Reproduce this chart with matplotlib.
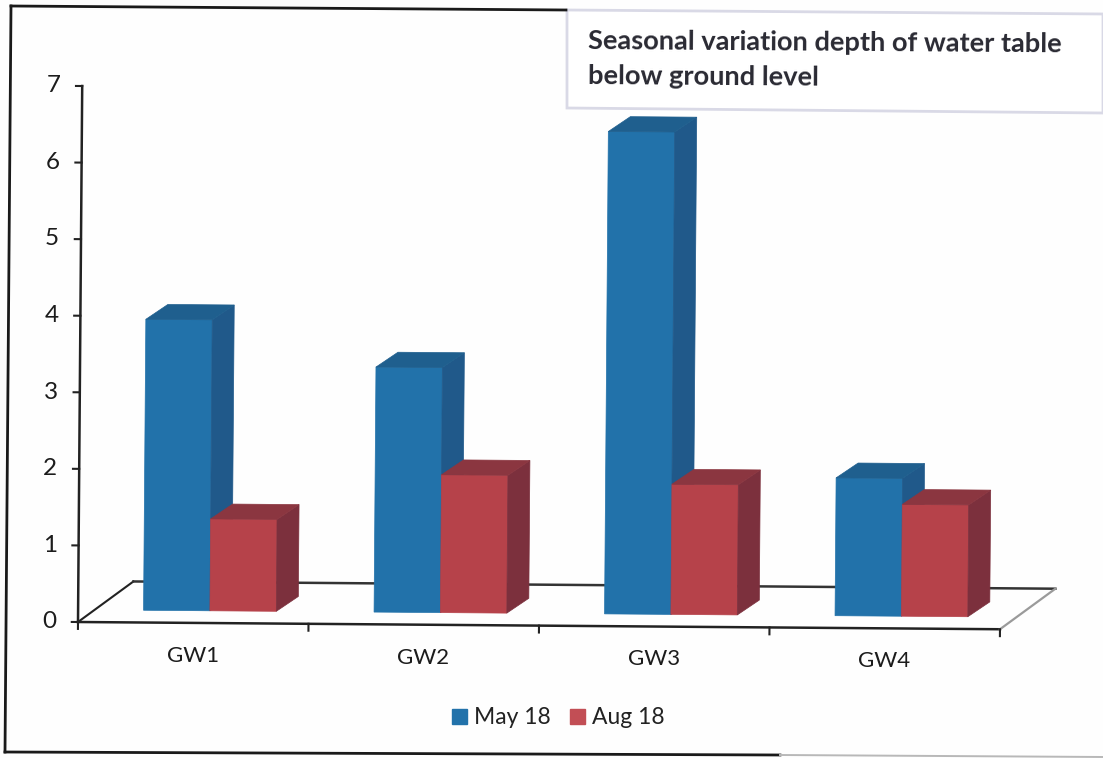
import matplotlib
matplotlib.use('Agg')
import numpy as np
from matplotlib import pyplot as plt
from matplotlib.patches import Polygon, Rectangle
from matplotlib.transforms import Affine2D

categories = ['GW1', 'GW2', 'GW3', 'GW4']
may_18 = [3.8, 3.2, 6.3, 1.8]
aug_18 = [1.2, 1.8, 1.7, 1.46]
y_ticks = [0, 1, 2, 3, 4, 5, 6, 7]

plt.rcParams['font.family'] = ['Lato', 'DejaVu Sans']

W, H = 1103, 758
fig = plt.figure(figsize=(W / 100, H / 100), dpi=100, facecolor='#fefefe')

# page layer: scan frame and title box, in pixels
page = fig.add_axes([0, 0, 1, 1])
page.set_xlim(0, W)
page.set_ylim(H, 0)
page.axis('off')
page.plot([11, 566], [6, 10], color='#1a1a1a', lw=2)
page.plot([11, 5], [6, 752], color='#1a1a1a', lw=2)
page.plot([5, 780], [752, 755], color='#1a1a1a', lw=2)
page.plot([780, 1103], [755, 757], color='#b8b8b8', lw=1.4)
page.add_patch(Polygon([(567, 10), (1103, 14), (1103, 113), (567, 108)], closed=True,
                       facecolor='white', edgecolor='#d9d9e6', lw=2))
page.text(588, 41, 'Seasonal variation depth of water table', fontsize=19.6, fontweight='bold',
          color='#2a2a33', va='center', rotation=-0.4, rotation_mode='anchor')
page.text(588, 76, 'below ground level', fontsize=19.6, fontweight='bold',
          color='#2a2a33', va='center', rotation=-0.4, rotation_mode='anchor')

# plot area, the whole chart sits a bit crooked on the scan
ax = fig.add_axes([78 / W, (H - 622) / H, 922 / W, 536 / H])
ax.set_xlim(0, 4)
ax.set_ylim(0, 7)
ax.axis('off')
ax.patch.set_alpha(0)
tilt = Affine2D().rotate_deg_around(78, H - 622, -0.45)
tr = ax.transData + tilt

bar_w = 0.288
depth_x, depth_y = 0.095, 0.196
floor_x, floor_y = 0.239, 0.535
shift_x, base = 0.072, 0.16

# axis lines and floor
ax.plot([0, 0], [0, 7], color='#222222', lw=1.8, transform=tr, clip_on=False)
ax.plot([0, 4], [0, 0], color='#222222', lw=1.8, transform=tr, clip_on=False)
ax.plot([0, floor_x], [0, floor_y], color='#222222', lw=1.5, transform=tr, clip_on=False)
ax.plot([floor_x, 4 + floor_x], [floor_y, floor_y], color='#333333', lw=1.8, transform=tr, clip_on=False)
ax.plot([4, 4 + floor_x], [0, floor_y], color='#9a9a9a', lw=1.6, transform=tr, clip_on=False)

for t in y_ticks:
    ax.plot([-0.027, 0], [t, t], color='#222222', lw=1.5, transform=tr, clip_on=False)
    ax.text(-0.095, t, str(t), fontsize=17.5, color='#1c1c1c', ha='right', va='center', transform=tr)
for i in range(5):
    ax.plot([i, i], [0, -0.09], color='#222222', lw=1.5, transform=tr, clip_on=False)
for i, name in enumerate(categories):
    ax.text(i + 0.5, -0.43, name, fontsize=16, color='#1c1c1c', ha='center', va='center', transform=tr)


def draw_bars(left, values, front, top, side, label):
    bars = ax.bar(left, values, bar_w, bottom=base, align='edge', color=front, edgecolor=front, lw=0.5,
                  label=label, transform=tr, clip_on=False, zorder=3)
    for x, v in zip(left, values):
        y1 = base + v
        ax.add_patch(Polygon([(x + bar_w, base), (x + bar_w + depth_x, base + depth_y),
                              (x + bar_w + depth_x, y1 + depth_y), (x + bar_w, y1)], closed=True,
                             facecolor=side, edgecolor=side, lw=0.5, transform=tr, clip_on=False, zorder=3))
        ax.add_patch(Polygon([(x, y1), (x + depth_x, y1 + depth_y),
                              (x + bar_w + depth_x, y1 + depth_y), (x + bar_w, y1)], closed=True,
                             facecolor=top, edgecolor=top, lw=0.5, transform=tr, clip_on=False, zorder=3))
    return bars


centers = np.arange(len(categories)) + 0.5 + shift_x
blue = draw_bars(centers - bar_w, may_18, '#2272aa', '#1f5f8e', '#20598a', 'May 18')
red = draw_bars(centers, aug_18, '#b6424a', '#8b3640', '#7c303d', 'Aug 18')

handles = [Rectangle((0, 0), 1, 1, color='#2272aa'), Rectangle((0, 0), 1, 1, color='#c24e55')]
fig.legend(handles, ['May 18', 'Aug 18'], ncols=2, frameon=False, fontsize=16.5,
           loc='center', bbox_to_anchor=(558 / W, (H - 718) / H), handlelength=0.65, handleheight=0.6,
           handletextpad=0.3, columnspacing=0.85, labelcolor='#222222')

fig.savefig('out.png', dpi=100)
